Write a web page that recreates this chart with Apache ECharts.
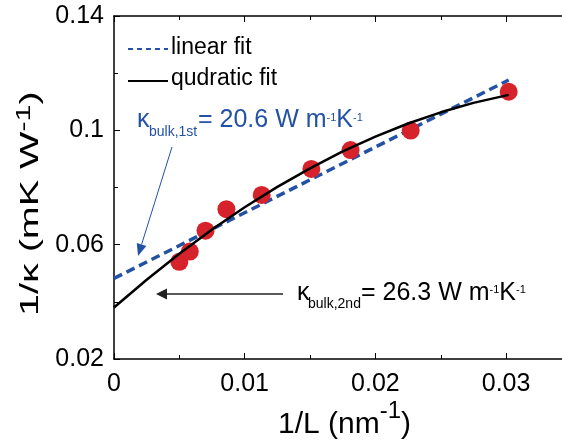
<!DOCTYPE html>
<html>
<head>
<meta charset="utf-8">
<script src="https://cdn.jsdelivr.net/npm/echarts@6/dist/echarts.min.js"></script>
<style>html,body{margin:0;padding:0;background:#fff;}#c{width:562px;height:444px;}</style>
</head>
<body>
<div id="c"></div>
<script>
// ---- data ----
const measX = [0.0050, 0.0058, 0.0070, 0.0086, 0.0113, 0.0151, 0.0181, 0.0227, 0.0302];
const measY = [0.0540, 0.0576, 0.0649, 0.0724, 0.0774, 0.0865, 0.0931, 0.0999, 0.1135];
const linX = [0, 0.0302];
const linY = [0.0482, 0.1176];
const quadX = [0, 0.0025, 0.005, 0.0075, 0.010, 0.0125, 0.015, 0.0175, 0.020, 0.0225, 0.025, 0.0275, 0.0302];
const quadY = [0.0380, 0.0477, 0.0568, 0.0653, 0.0731, 0.0802, 0.0867, 0.0926, 0.0978, 0.1024, 0.1063, 0.1096, 0.1124];
const xTickLabels = ['0', '0.01', '0.02', '0.03'];
const yTickLabels = ['0.02', '0.06', '0.1', '0.14'];
const legendNames = ['linear fit', 'qudratic fit'];

const FONT = '"Liberation Sans", Arial, sans-serif';
const BLUE = '#2352a5';
const RED = '#d6222a';

const cv = document.createElement('canvas').getContext('2d');
function tw(t, s) { cv.font = s + 'px ' + FONT; return cv.measureText(t).width; }
function txt(t, x, y, s, color, extra) {
  return Object.assign({ type: 'text', x: x, y: y, silent: true,
    style: { text: t, font: s + 'px ' + FONT, fill: color, align: 'left', verticalAlign: 'middle' } }, extra || {});
}
function chain(pieces, color) {
  let x = 0, out = [];
  pieces.forEach(p => {
    if (p[3] !== undefined) x = p[3];
    out.push(txt(p[0], x, p[2], p[1], color));
    x += tw(p[0], p[1]);
  });
  return out;
}
function arrow(x1, y1, x2, y2, len, half, color, lw) {
  const dx = x2 - x1, dy = y2 - y1, d = Math.hypot(dx, dy);
  const ux = dx / d, uy = dy / d, nx = -uy, ny = ux;
  const bx = x2 - ux * len, by = y2 - uy * len;
  return [
    { type: 'line', silent: true, shape: { x1: x1, y1: y1, x2: bx, y2: by }, style: { stroke: color, lineWidth: lw } },
    { type: 'polygon', silent: true, shape: { points: [[x2, y2], [bx + nx * half, by + ny * half], [bx - nx * half, by - ny * half]] }, style: { fill: color } }
  ];
}

const chart = echarts.init(document.getElementById('c'), null, { renderer: 'canvas' });

function xFmt(v) { const i = Math.round(v / 0.01); return (Math.abs(v - i * 0.01) < 1e-9 && xTickLabels[i] !== undefined) ? xTickLabels[i] : ''; }
function yFmt(v) { const i = Math.round((v - 0.02) / 0.04); return (Math.abs(v - (0.02 + i * 0.04)) < 1e-9 && yTickLabels[i] !== undefined) ? yTickLabels[i] : ''; }

const axisCommon = {
  type: 'value', min: 0, max: 0.04, interval: 0.01,
  axisLine: { show: true, onZero: false, lineStyle: { color: '#000', width: 1.5 } },
  axisTick: { show: true, inside: true, length: 6, lineStyle: { color: '#000', width: 1 } },
  minorTick: { show: true, splitNumber: 2, length: 4, lineStyle: { color: '#000', width: 1 } },
  splitLine: { show: false }, minorSplitLine: { show: false }
};

const graphics = [];
(function () {
  const s = 26, ss = 20;
  const w1 = tw('1/κ (mK W', s), w2 = tw('-1', ss);
  graphics.push({ type: 'group', x: 31, y: 316, rotation: Math.PI / 2, scaleX: 1.52, scaleY: 1, silent: true,
    children: [ txt('1/κ (mK W', 0, 0, s, '#000'), txt('-1', w1, -6.6, ss, '#000'), txt(')', w1 + w2, 0, s, '#000') ] });
})();
graphics.push(...chain([['1/L (nm', 30, 424.6, 278], ['-1', 24, 411.7], [')', 30, 424.6]], '#000'));
graphics.push({ type: 'line', silent: true, shape: { x1: 128, y1: 49, x2: 168, y2: 49 }, style: { stroke: BLUE, lineWidth: 2.2, lineDash: [5, 4] } });
graphics.push(txt(legendNames[0], 171, 47.4, 23, '#000'));
graphics.push({ type: 'line', silent: true, shape: { x1: 128, y1: 81, x2: 168, y2: 81 }, style: { stroke: '#000', lineWidth: 2.2 } });
graphics.push(txt(legendNames[1], 171, 79.1, 23, '#000'));
graphics.push(...chain([['κ', 25, 120.6, 137], ['bulk,1st', 14, 131.8, 149], ['= 20.6 W m', 25, 120.6, 198], ['-1', 11, 118.2], ['K', 25, 120.6], ['-1', 11, 118.2]], BLUE));
graphics.push(...arrow(172, 147, 138, 256, 12, 5, BLUE, 1));
graphics.push(...chain([['κ', 25, 293, 297], ['bulk,2nd', 14, 304, 308], ['= 26.3 W m', 25, 293, 361], ['-1', 11, 290.2], ['K', 25, 293], ['-1', 11, 290.2]], '#000'));
graphics.push(...arrow(283, 294, 156, 294, 11, 5.5, '#222', 1.3));

chart.setOption({
  animation: false,
  backgroundColor: '#fff',
  textStyle: { fontFamily: FONT },
  grid: { left: 114, width: 522.8, top: 16, height: 343, containLabel: false, outerBoundsMode: 'none' },
  xAxis: [
    Object.assign({}, axisCommon, { position: 'bottom',
      axisLabel: { show: true, fontSize: 25, color: '#000', fontFamily: FONT, margin: 13, formatter: xFmt, showMaxLabel: false } }),
    Object.assign({}, axisCommon, { position: 'top', axisLabel: { show: false } })
  ],
  yAxis: {
    type: 'value', min: 0.02, max: 0.14, interval: 0.04,
    axisLine: { show: true, onZero: false, lineStyle: { color: '#000', width: 1.5 } },
    axisTick: { show: true, inside: true, length: 6, lineStyle: { color: '#000', width: 1 } },
    minorTick: { show: true, splitNumber: 2, length: 4, lineStyle: { color: '#000', width: 1 } },
    splitLine: { show: false },
    axisLabel: { show: true, fontSize: 25, color: '#000', fontFamily: FONT, margin: 10, formatter: yFmt }
  },
  series: [
    { type: 'line', name: legendNames[0], xAxisIndex: 0, data: linX.map((x, i) => [x, linY[i]]),
      showSymbol: false, lineStyle: { color: BLUE, width: 3.5, type: [9, 5] }, z: 2 },
    { type: 'scatter', xAxisIndex: 0, data: measX.map((x, i) => [x, measY[i]]),
      symbol: 'circle', symbolSize: 18, itemStyle: { color: RED, opacity: 1 }, z: 3 },
    { type: 'line', name: legendNames[1], xAxisIndex: 0, data: quadX.map((x, i) => [x, quadY[i]]),
      showSymbol: false, smooth: false, lineStyle: { color: '#000', width: 2.5, join: 'round' }, z: 4 }
  ],
  graphic: graphics
});
</script>
</body>
</html>
